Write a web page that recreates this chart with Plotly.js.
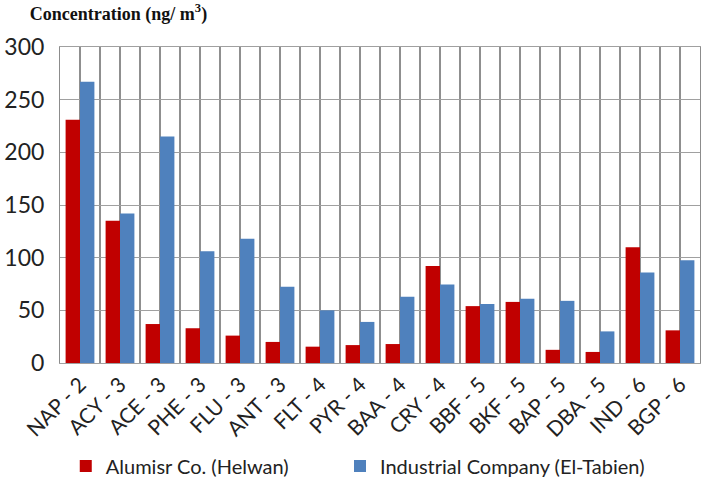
<!DOCTYPE html>
<html>
<head>
<meta charset="utf-8">
<script src="https://cdn.plot.ly/plotly-3.0.1.min.js"></script>
<style>html,body{margin:0;padding:0;background:#fff;}#chart{width:711px;height:483px;}</style>
</head>
<body>
<div id="chart"></div>
<script>
const categories = ["NAP - 2","ACY - 3","ACE - 3","PHE - 3","FLU - 3","ANT - 3","FLT - 4","PYR - 4","BAA - 4","CRY - 4","BBF - 5","BKF - 5","BAP - 5","DBA - 5","IND - 6","BGP - 6"];
const alumisr = [231,135,37,33,26,20,15.5,17,18,92,54,58,12.5,10.5,110,31];
const industrial = [267,142,215,106,118,72.5,50,39,63,74.5,56,61,59,30,86,97.5];
const seriesNames = ["Alumisr Co. (Helwan)","Industrial Company (El-Tabien)"];
const yTicks = [0,50,100,150,200,250,300];

const idx = categories.map((c,i)=>i);
// numeric x axis: gridlines every half category (centers + boundaries); labels only at centers
const alias = {};
categories.forEach((c,i)=>{
  alias[i.toFixed(1)] = c;
  alias[(i-0.5).toFixed(1)] = '';
  alias[(i+0.5).toFixed(1)] = '';
});
alias['\u22120.5'] = '';
alias['-0.5'] = '';

const traces = [
  {type:'bar', x: idx, y: alumisr, name: seriesNames[0], marker:{color:'#C00000'}, legend:'legend'},
  {type:'bar', x: idx, y: industrial, name: seriesNames[1], marker:{color:'#4F81BD'}, legend:'legend2'}
];
const grid = '#a0a0a0';
const legendBase = {orientation:'h', y:-0.326, yanchor:'middle', xanchor:'left',
                    font:{size:20, color:'#222'}, itemwidth:30, bgcolor:'rgba(0,0,0,0)'};
const layout = {
  width:711, height:483,
  margin:{l:60, r:11, t:47, b:120, autoexpand:false},
  paper_bgcolor:'#fff', plot_bgcolor:'#fff',
  barmode:'group', bargap:0.28, bargroupgap:0,
  font:{family:'Lato, "Open Sans", sans-serif', color:'#222'},
  title:{text:'<b>Concentration (ng/ m<sup>3</sup>)</b>', font:{family:'"Liberation Serif", serif', size:18, color:'#111'},
         xref:'container', yref:'container', x:0.042, xanchor:'left', y:0.985, yanchor:'top'},
  xaxis:{
    range:[-0.5, categories.length - 0.5], automargin:false,
    tickmode:'linear', tick0:-0.5, dtick:0.5, tickformat:'.1f', labelalias: alias,
    tickangle:-45, tickfont:{size:21, color:'#222'},
    showgrid:true, gridcolor:'#8f8f8f', gridwidth:1.3,
    ticks:'', zeroline:false,
    showline:true, linecolor:grid, mirror:true
  },
  yaxis:{
    range:[0,300], tickvals:yTicks, tickfont:{size:23, color:'#222'}, automargin:false,
    ticklabelstandoff:10,
    showgrid:true, gridcolor:grid, gridwidth:1,
    zeroline:false, showline:true, linecolor:'#8c8c8c', mirror:true, ticks:''
  },
  legend: Object.assign({x:0.009}, legendBase),
  legend2: Object.assign({x:0.4375}, legendBase),
  showlegend:true
};
Plotly.newPlot('chart', traces, layout, {displayModeBar:false, staticPlot:true});
</script>
</body>
</html>
